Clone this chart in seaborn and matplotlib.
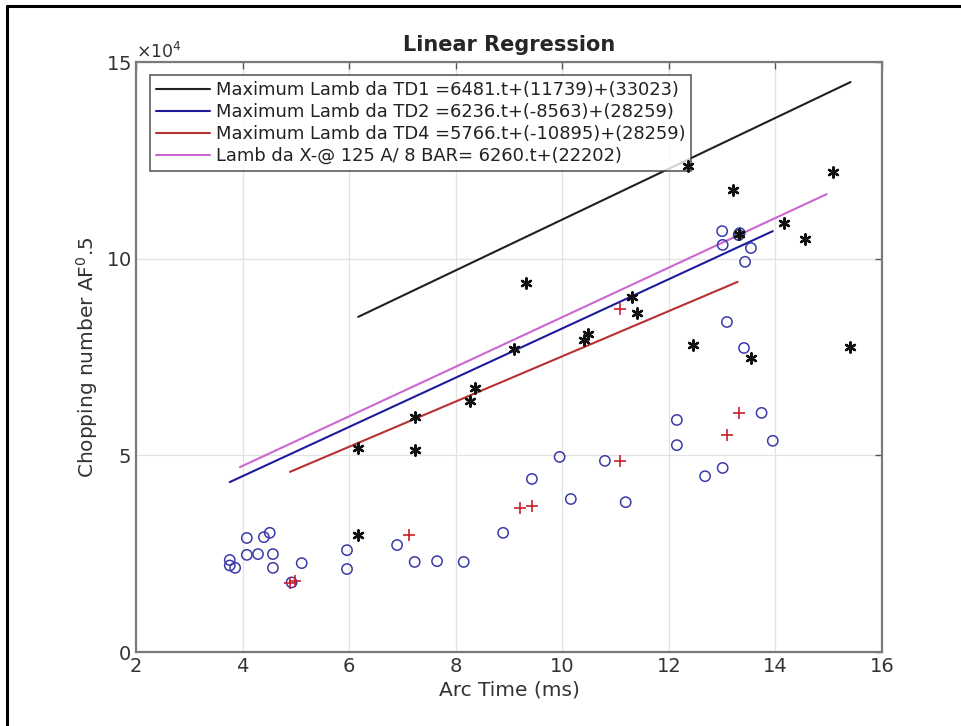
import numpy as np
import pandas as pd
import seaborn as sns
import matplotlib.pyplot as plt
from matplotlib.lines import Line2D

# measured points (arc time in ms, chopping number)
star_x = [6.17, 6.17, 7.23, 7.23, 8.27, 8.36, 9.10, 9.32, 10.40, 10.48, 11.31, 11.40,
          12.36, 12.45, 13.20, 13.32, 13.54, 14.16, 14.55, 15.08, 15.40]
star_y = [51900, 29700, 51400, 59800, 63800, 67100, 77000, 93800, 79300, 80900, 90300, 86200,
          123600, 78000, 117500, 106200, 74700, 109000, 105000, 122000, 77500]

plus_x = [4.89, 4.98, 7.12, 9.20, 9.43, 11.08, 11.08, 13.09, 13.31]
plus_y = [17500, 18000, 29700, 36600, 37100, 48600, 87200, 55200, 60800]

circ_x = [3.76, 3.76, 3.86, 4.08, 4.08, 4.29, 4.40, 4.51, 4.57, 4.57, 4.92, 5.11,
          5.96, 5.96, 6.90, 7.23, 7.65, 8.15, 8.89, 9.43, 9.95, 10.16, 10.80, 11.19,
          12.15, 12.15, 12.68, 13.01, 13.74, 13.95, 13.09, 13.41, 13.00, 13.01, 13.31,
          13.33, 13.54, 13.43]
circ_y = [23400, 22000, 21400, 29000, 24700, 24900, 29200, 30300, 24900, 21400, 17700, 22600,
          25900, 21100, 27200, 22900, 23100, 22900, 30300, 44000, 49600, 38900, 48600, 38100,
          59000, 52600, 44700, 46800, 60800, 53700, 83900, 77300, 107000, 103500, 106000,
          106500, 102700, 99200]

# regression lines, end points
line_labels = ["Maximum Lamb da TD1 =6481.t+(11739)+(33023)",
               "Maximum Lamb da TD2 =6236.t+(-8563)+(28259)",
               "Maximum Lamb da TD4 =5766.t+(-10895)+(28259)",
               "Lamb da X-@ 125 A/ 8 BAR= 6260.t+(22202)"]
line_x = [[6.17, 15.41], [3.76, 13.95], [4.89, 13.29], [3.95, 14.96]]
line_y = [[85200, 144900], [43200, 107000], [45800, 94100], [47000, 116400]]
line_colors = ["#202020", "#1c1c9c", "#b83030", "#cc66d0"]

sns.set_style("white")
plt.rcParams['font.family'] = ['DejaVu Sans']

fig = plt.figure(figsize=(9.61, 7.26), dpi=100)
ax = fig.add_axes([0.1415, 0.1019, 0.7763, 0.8127])

lines_df = pd.DataFrame({
    "t": sum(line_x, []),
    "y": sum(line_y, []),
    "fit": sum([[lab, lab] for lab in line_labels], []),
})
sns.lineplot(data=lines_df, x="t", y="y", hue="fit", palette=line_colors,
             linewidth=1.5, ax=ax, sort=False)

sns.scatterplot(x=circ_x, y=circ_y, marker="o", s=55, facecolors="none",
                edgecolors="#3a3aa8", linewidth=1.1, ax=ax, zorder=3)
sns.scatterplot(x=star_x, y=star_y, marker=(6, 2, 0), s=55, color="#111111",
                linewidth=1.7, ax=ax, zorder=6)
sns.scatterplot(x=plus_x, y=plus_y, marker="+", s=80, color="#c8202a",
                linewidth=1.2, ax=ax, zorder=4)

ax.set_xlim(2, 16)
ax.set_ylim(0, 150000)
ax.set_xticks(np.arange(2, 17, 2))
ax.set_yticks([0, 50000, 100000, 150000])
ax.ticklabel_format(axis="y", style="sci", scilimits=(4, 4), useMathText=True)
ax.yaxis.get_offset_text().set_fontsize(12.5)
ax.yaxis.get_offset_text().set_color("#333333")
ax.grid(True, color="#e2e2e2", linewidth=0.9)
ax.tick_params(direction="in", top=True, right=True, length=5, width=1,
               color="#555555", labelsize=14, labelcolor="#333333")
for sp in ax.spines.values():
    sp.set_color("#7a7a7a")
    sp.set_linewidth(1.6)

ax.set_xlabel("Arc Time (ms)", fontsize=14.5, color="#333333", labelpad=3)
ax.set_ylabel("Chopping number AF$^{0}$.5", fontsize=14.5, color="#333333")
ax.set_title("Linear Regression", fontsize=15, fontweight="bold", pad=8)

leg = ax.legend(loc="upper left", fontsize=12.9, frameon=True, fancybox=False,
                borderpad=0.35, labelspacing=0.22, handlelength=3.0,
                handletextpad=0.3, bbox_to_anchor=(0.019, 0.978), borderaxespad=0)
leg.get_frame().set_edgecolor("#333333")
leg.get_frame().set_linewidth(1.2)
leg.set_zorder(5)
for txt in leg.get_texts():
    txt.set_color("#222222")

# black frame round the picture (left and top)
fig.add_artist(Line2D([0.0073, 0.0073], [0, 0.9917], color="black", linewidth=2.2))
fig.add_artist(Line2D([0.0073, 1.0], [0.9917, 0.9917], color="black", linewidth=2.2))

plt.savefig("out.png", dpi=100)
